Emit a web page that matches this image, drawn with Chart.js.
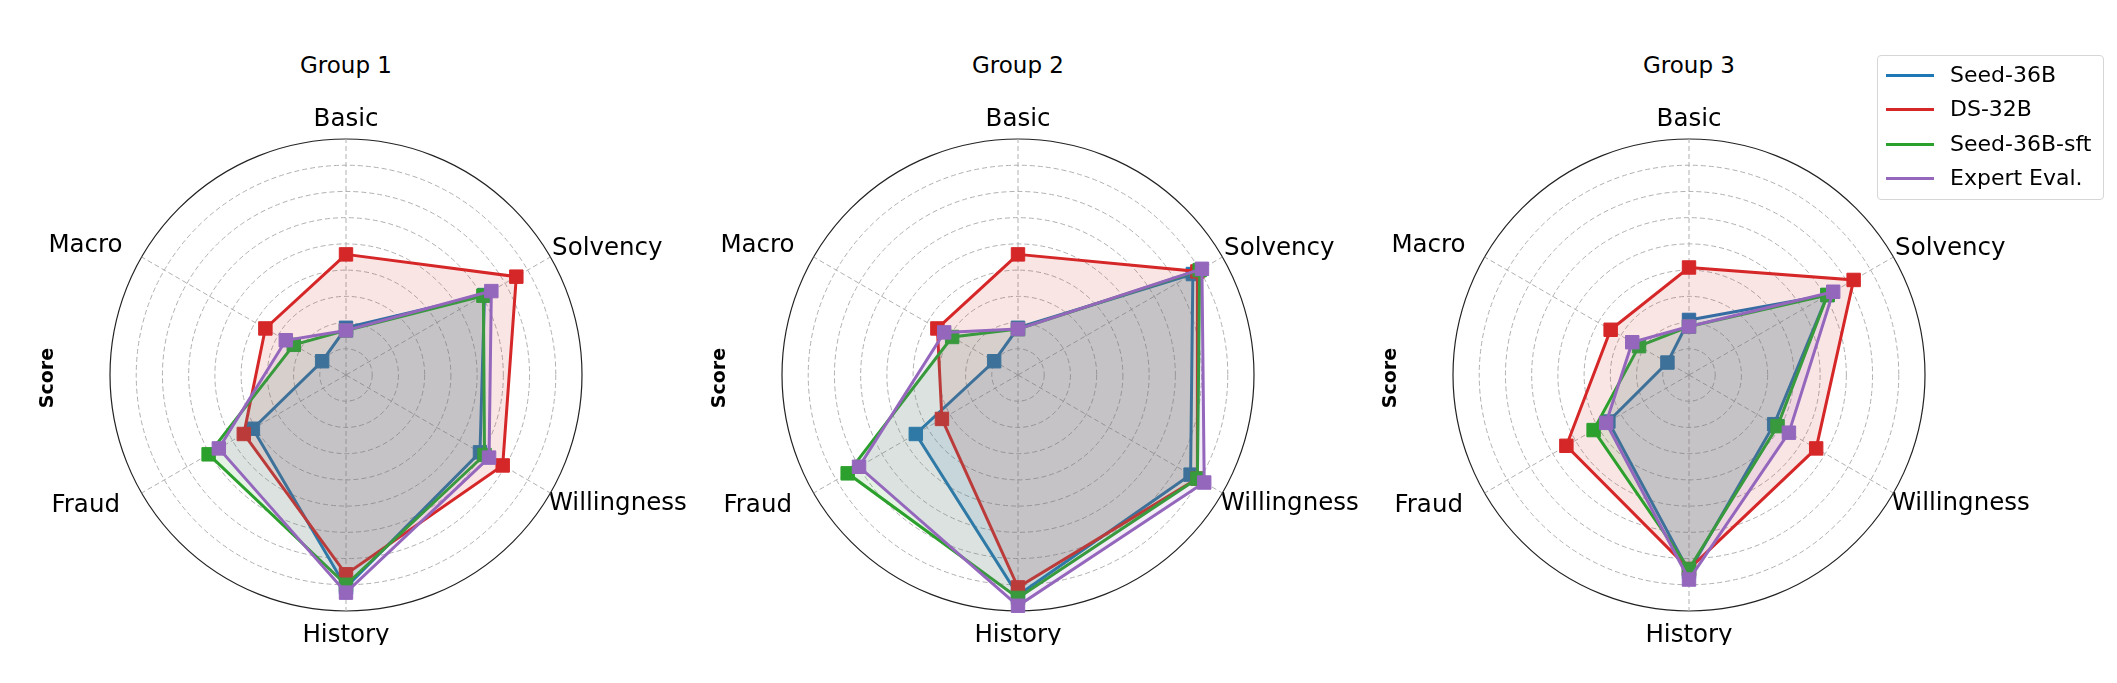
<!DOCTYPE html>
<html>
<head>
<meta charset="utf-8">
<script src="https://cdn.jsdelivr.net/npm/chart.js@4.4.1/dist/chart.umd.min.js"></script>
<style>
  body { margin: 0; background: #fff; }
  #fig { position: relative; width: 2117px; height: 683px; overflow: hidden; font-family: "DejaVu Sans", sans-serif; color: #000; }
  #fig canvas { position: absolute; }
  .titulo { position: absolute; width: 200px; text-align: center; font-size: 23px; line-height: 22px; }
  .score { position: absolute; width: 100px; height: 24px; line-height: 24px; text-align: center; font-size: 19px; font-weight: bold; transform: rotate(-90deg); }
  #legenda { position: absolute; left: 1877px; top: 55px; width: 225px; padding: 2px 0 4px 0; border: 1px solid #d6d6d6; border-radius: 4px; background: rgba(255,255,255,0.8); }
  .item { position: relative; height: 34.3px; line-height: 34.3px; font-size: 22px; padding-left: 72px; white-space: nowrap; }
  .item span { position: absolute; left: 8px; top: 16px; width: 48px; height: 3px; }
</style>
</head>
<body>
<div id="fig"></div>
<script>
// eixos do radar (sentido horário a partir do topo)
const eixos = ['Basic', 'Solvency', 'Willingness', 'History', 'Fraud', 'Macro'];
const grupos = ['Group 1', 'Group 2', 'Group 3'];
const modelos = ['Seed-36B', 'DS-32B', 'Seed-36B-sft', 'Expert Eval.'];
const cores = ['#1f77b4', '#d62728', '#2ca02c', '#9467bd'];

// valores por grupo (0 a 9)
const seed36B    = [[1.8, 6.1, 5.9, 8.1, 4.1, 1.05], [1.8, 7.7, 7.6, 8.4, 4.5, 1.05], [2.1, 6.1, 3.75, 7.5, 3.55, 0.95]];
const ds32B      = [[4.6, 7.5, 6.9, 7.6, 4.5, 3.55], [4.6, 7.9, 7.9, 8.1, 3.35, 3.55], [4.1, 7.25, 5.6, 7.4, 5.4, 3.45]];
const seed36BSft = [[1.7, 6.05, 6.1, 8.0, 6.05, 2.3], [1.75, 8.0, 7.9, 8.5, 7.5, 2.9], [1.85, 6.1, 3.9, 7.4, 4.2, 2.2]];
const expertEval = [[1.7, 6.4, 6.3, 8.3, 5.6, 2.65], [1.75, 8.1, 8.2, 8.8, 7.0, 3.25], [1.85, 6.35, 4.4, 7.8, 3.65, 2.5]];
const series = [seed36B, ds32B, seed36BSft, expertEval];

const escalaMax = 9;
const passo = 1;

// posição de cada radar
const centrosX = [346, 1018, 1689];
const larguraCanvas = 800, alturaCanvas = 540, topoCanvas = 105;
// ajuste fino dos rótulos dos eixos
const padRotulo = [4, 2, -2, 16, 25, 22];
const alturaRotulo = ['30px', '15px', '24px', '18px', '0px', '0px'];

function comAlfa(hex, a) {
  const n = parseInt(hex.slice(1), 16);
  return `rgba(${(n >> 16) & 255}, ${(n >> 8) & 255}, ${n & 255}, ${a})`;
}

const fig = document.getElementById('fig');

grupos.forEach((nome, g) => {
  const cx = centrosX[g];

  const canvas = document.createElement('canvas');
  canvas.width = larguraCanvas;
  canvas.height = alturaCanvas;
  canvas.style.left = (cx - larguraCanvas / 2) + 'px';
  canvas.style.top = topoCanvas + 'px';
  fig.appendChild(canvas);

  const titulo = document.createElement('div');
  titulo.className = 'titulo';
  titulo.textContent = nome;
  titulo.style.left = (cx - 100) + 'px';
  titulo.style.top = '54px';
  fig.appendChild(titulo);

  const score = document.createElement('div');
  score.className = 'score';
  score.textContent = 'Score';
  score.style.left = (cx - 300 - 50) + 'px';
  score.style.top = (378 - 12) + 'px';
  fig.appendChild(score);

  new Chart(canvas.getContext('2d'), {
    type: 'radar',
    data: {
      labels: eixos,
      datasets: modelos.map((m, i) => ({
        label: m,
        data: series[i][g],
        borderColor: cores[i],
        backgroundColor: comAlfa(cores[i], 0.12),
        fill: true,
        borderWidth: 3,
        pointStyle: 'rect',
        pointRadius: 9.5,
        pointBackgroundColor: cores[i],
        pointBorderColor: cores[i],
        pointBorderWidth: 1,
        order: modelos.length - i
      }))
    },
    options: {
      responsive: false,
      animation: false,
      devicePixelRatio: 1,
      layout: { padding: 0 },
      plugins: { legend: { display: false }, tooltip: { enabled: false } },
      scales: {
        r: {
          min: 0,
          max: escalaMax,
          ticks: { stepSize: passo, display: false },
          grid: {
            circular: true,
            color: c => c.index === escalaMax ? '#222' : '#b0b0b0',
            lineWidth: c => c.index === escalaMax ? 1.2 : 1
          },
          border: { dash: c => c.index === escalaMax ? [] : [5, 3] },
          angleLines: { color: '#b0b0b0', lineWidth: 1, borderDash: [5, 3] },
          pointLabels: {
            color: '#000',
            padding: c => padRotulo[c.index],
            font: c => ({ family: 'DejaVu Sans', size: 24.5, lineHeight: alturaRotulo[c.index] })
          }
        }
      }
    }
  });
});

// legenda
const legenda = document.createElement('div');
legenda.id = 'legenda';
modelos.forEach((m, i) => {
  const item = document.createElement('div');
  item.className = 'item';
  item.innerHTML = `<span style="background:${cores[i]}"></span>${m}`;
  legenda.appendChild(item);
});
fig.appendChild(legenda);
</script>
</body>
</html>
